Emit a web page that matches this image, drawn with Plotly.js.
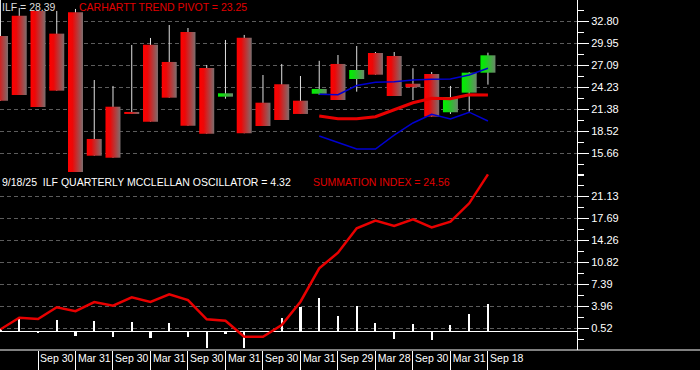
<!DOCTYPE html>
<html><head><meta charset="utf-8">
<script src="https://cdn.plot.ly/plotly-3.0.1.min.js"></script>
<style>html,body{margin:0;padding:0;background:#000;}#chart{width:700px;height:370px;}</style>
</head><body><div id="chart"></div>
<script>
// ---- data ----
const quarters = ['2019 Q1','2019 Q2','2019 Q3','2019 Q4','2020 Q1','2020 Q2','2020 Q3','2020 Q4',
  '2021 Q1','2021 Q2','2021 Q3','2021 Q4','2022 Q1','2022 Q2','2022 Q3','2022 Q4',
  '2023 Q1','2023 Q2','2023 Q3','2023 Q4','2024 Q1','2024 Q2','2024 Q3','2024 Q4',
  '2025 Q1','2025 Q2','2025 Q3'];
const open  = [30.90,33.53,34.14,31.20,33.97,17.55,21.73,21.05,29.77,27.53,31.41,26.75,23.03,30.68,22.25,24.64,22.51,23.41,27.27,25.32,28.69,28.30,24.71,25.97,21.01,23.55,26.14];
const high  = [36.00,34.53,34.30,34.14,34.40,25.19,24.42,29.73,30.64,32.32,31.93,27.14,30.38,31.03,25.84,27.27,25.71,27.68,28.43,29.60,28.82,28.82,26.71,26.23,24.42,26.20,28.73];
const low   = [22.51,23.25,21.69,23.81,12.97,15.38,15.12,20.79,19.79,22.90,19.27,18.23,22.77,18.29,19.23,20.01,20.79,23.25,22.60,23.68,25.88,23.12,22.60,20.44,20.79,21.09,24.59];
const close = [22.51,23.25,21.69,23.81,12.97,15.38,15.12,20.79,19.79,22.90,19.27,18.23,23.47,18.29,19.23,20.01,20.79,24.03,22.60,26.49,25.88,23.12,24.26,20.44,22.99,26.14,28.39];

const trendQuarters = ['2023 Q2','2023 Q3','2023 Q4','2024 Q1','2024 Q2','2024 Q3','2024 Q4','2025 Q1','2025 Q2','2025 Q3'];
const pivot = [20.53,20.18,20.18,20.44,21.34,22.24,22.82,22.76,23.29,23.25];
const upperBand = [23.34,23.29,24.48,24.90,24.97,25.19,25.28,25.32,25.84,26.71];
const lowerBand = [17.93,17.07,16.25,16.25,18.06,19.62,20.76,20.14,21.02,19.88];

const oscillator = [0.36,1.92,-0.27,1.81,-0.64,1.65,-0.80,1.50,-0.95,1.34,-0.90,-2.50,-0.42,-2.50,-0.05,2.17,3.80,5.25,2.45,4.00,1.34,-1.15,1.19,-1.30,1.03,2.75,4.32];
const summation = [0.36,2.17,1.97,3.80,3.20,4.62,4.05,5.35,4.62,5.82,4.93,1.92,1.70,-0.80,-0.80,1.03,4.67,9.88,12.32,16.13,17.32,16.49,17.53,16.28,17.16,20.03,24.56];

const stripQuarters = ['2019 Q3','2020 Q1','2020 Q3','2021 Q1','2021 Q3','2022 Q1','2022 Q3','2023 Q1','2023 Q3','2024 Q1','2024 Q3','2025 Q1','2025 Q3'];
const stripLabels = ['Sep 30','Mar 31','Sep 30','Mar 31','Sep 30','Mar 31','Sep 30','Mar 31','Sep 29','Mar 28','Sep 30','Mar 31','Sep 18'];
const priceTicks = [15.66,18.52,21.38,24.23,27.09,29.95,32.80];
const oscTicks = [0.52,3.96,7.39,10.82,14.26,17.69,21.13];
const asOf = '9/18/25';
const symbol = 'ILF';

// ---- build ----
const idx = q => quarters.indexOf(q);
const xs = quarters.map((q,i)=>i);
const FONT = 'Arial, "Liberation Sans", sans-serif';
const redScale = [[0,'#ff0000'],[0.3,'#ec0808'],[1,'#7c6e6e']];
const greenScale = [[0,'#00f000'],[0.3,'#12dc12'],[1,'#6c866c']];
const bodyHalf = 0.4;

const traces = [];
// wicks
const wx = [], wy = [];
xs.forEach(i=>{ wx.push(i,i,null); wy.push(high[i],low[i],null); });
traces.push({type:'scatter',mode:'lines',x:wx,y:wy,line:{color:'#e0e0e0',width:1},xaxis:'x',yaxis:'y',hoverinfo:'skip'});
// bodies
xs.forEach(i=>{
  const up = close[i] >= open[i];
  const top = Math.max(open[i],close[i]), bot = Math.min(open[i],close[i]);
  traces.push({type:'scatter',mode:'lines',
    x:[i-bodyHalf,i+bodyHalf,i+bodyHalf,i-bodyHalf,i-bodyHalf],
    y:[bot,bot,top,top,bot],
    fill:'toself', line:{width:0,color:up?'#00f000':'#ff0000'},
    fillgradient:{type:'horizontal',colorscale: up?greenScale:redScale},
    xaxis:'x',yaxis:'y',hoverinfo:'skip'});
});
const tx = trendQuarters.map(idx);
traces.push({type:'scatter',mode:'lines',x:tx,y:upperBand,line:{color:'#0000d0',width:1.5},xaxis:'x',yaxis:'y'});
traces.push({type:'scatter',mode:'lines',x:tx,y:lowerBand,line:{color:'#0000d0',width:1.5},xaxis:'x',yaxis:'y'});
traces.push({type:'scatter',mode:'lines',x:tx,y:pivot,line:{color:'#e80000',width:3},xaxis:'x',yaxis:'y'});
// oscillator
traces.push({type:'bar',x:xs,y:oscillator,width:0.11,marker:{color:'#ffffff',line:{width:0}},xaxis:'x',yaxis:'y2'});
traces.push({type:'scatter',mode:'lines',x:xs,y:summation,line:{color:'#e80000',width:2.5},xaxis:'x',yaxis:'y2'});

const stripPos = stripQuarters.map(idx);
const H = 350; // plot-area height in px (paper units)
const yAxisCommon = {
  side:'right', showline:true, linecolor:'#ffffff', linewidth:1,
  ticks:'outside', ticklen:11, tickcolor:'#ffffff', tickwidth:1,
  tickfont:{color:'#ffffff',size:11,family:FONT},
  showgrid:true, gridcolor:'#5c5c5c', gridwidth:1, griddash:'4px,3px',
  zeroline:false, fixedrange:true, tickmode:'array'
};
const layout = {
  width:700, height:370, margin:{l:0,r:123,t:0,b:20,pad:0},
  paper_bgcolor:'#000000', plot_bgcolor:'#000000',
  showlegend:false, hovermode:false, bargap:0,
  xaxis:{domain:[0,1], range:[-0.027,30.75], anchor:'y2', showgrid:false, zeroline:false, showline:false,
    tickmode:'array', tickvals: stripPos.map(p=>p+1), ticktext: stripLabels, ticks:'',
    tickfont:{color:'#ffffff',size:10.5,family:FONT},
    minor:{tickmode:'array', tickvals: stripPos, ticks:'outside', ticklen:20, tickcolor:'#ffffff', tickwidth:1, showgrid:false},
    fixedrange:true},
  yaxis:Object.assign({}, yAxisCommon, {domain:[(H-176)/H,1], range:[12.75,35.56], anchor:'x',
    tickvals:priceTicks, ticktext:priceTicks.map(v=>v.toFixed(2)),
    minor:{tick0:priceTicks[0], dtick:(priceTicks[1]-priceTicks[0])/2, ticks:'outside', ticklen:6, tickcolor:'#ffffff', showgrid:false}}),
  yaxis2:Object.assign({}, yAxisCommon, {domain:[0,(H-172)/H], range:[-2.873,24.92], anchor:'x',
    tickvals:oscTicks, ticktext:oscTicks.map(v=>v.toFixed(2)),
    zeroline:true, zerolinecolor:'#ffffff', zerolinewidth:1.5,
    minor:{tick0:oscTicks[0], dtick:(oscTicks[1]-oscTicks[0])/2, ticks:'outside', ticklen:6, tickcolor:'#ffffff', showgrid:false}}),
  shapes:[{type:'line', xref:'paper', yref:'paper', x0:0, x1:700/577, y0:0, y1:0, line:{color:'#ffffff',width:1}}],
  annotations:[
    {xref:'paper',yref:'paper',x:0,y:(H-6.5)/H,xanchor:'left',yanchor:'middle',showarrow:false,
      text:symbol+' = '+close[close.length-1].toFixed(2),font:{color:'#dcdcdc',size:10.5,family:FONT}},
    {xref:'paper',yref:'paper',x:77/577,y:(H-6.5)/H,xanchor:'left',yanchor:'middle',showarrow:false,
      text:'CARHARTT TREND PIVOT = '+pivot[pivot.length-1].toFixed(2),font:{color:'#e00000',size:10.5,family:FONT}},
    {xref:'paper',yref:'paper',x:0,y:(H-182)/H,xanchor:'left',yanchor:'middle',showarrow:false,
      text:asOf+'\u00a0\u00a0'+symbol+' QUARTERLY MCCLELLAN OSCILLATOR = '+oscillator[oscillator.length-1].toFixed(2),font:{color:'#ffffff',size:10.5,family:FONT}},
    {xref:'paper',yref:'paper',x:311/577,y:(H-182)/H,xanchor:'left',yanchor:'middle',showarrow:false,
      text:'SUMMATION INDEX = '+summation[summation.length-1].toFixed(2),font:{color:'#e00000',size:10.5,family:FONT}}
  ]
};
Plotly.newPlot('chart', traces, layout, {staticPlot:true, displayModeBar:false});
</script></body></html>
